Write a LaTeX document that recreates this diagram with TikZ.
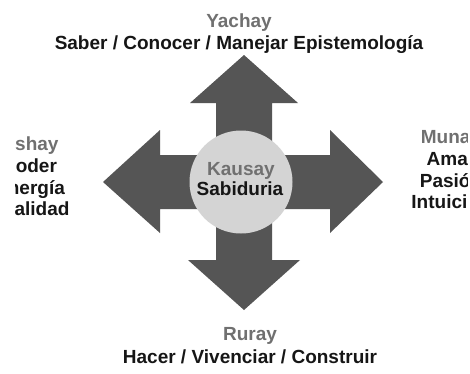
\documentclass[tikz,border=0pt]{standalone}
\usepackage{fontspec}
\setmainfont{Liberation Sans}
\definecolor{arrowgray}{RGB}{85,85,85}
\definecolor{circgray}{RGB}{212,212,212}
\definecolor{titlegray}{RGB}{112,112,112}
\definecolor{textblack}{RGB}{22,22,22}
\begin{document}
\begin{tikzpicture}[x=1pt,y=-1pt,
  lbl/.style={font=\bfseries\fontsize{19}{22}\selectfont, text=textblack, inner sep=0pt, anchor=base},
  ttl/.style={lbl, text=titlegray},
  crossfill/.style={fill=arrowgray, draw=none},
  hub/.style={circle, fill=circgray, draw=none, minimum size=103pt, inner sep=0pt}]
\useasboundingbox (0,0) rectangle (470,373);
\fill[white] (0,0) rectangle (470,373);
% four-way arrow
\path[crossfill] (244,55) -- (298,103) -- (272,103) -- (272,155) -- (330,155) -- (330,130)
  -- (383,182) -- (330,233) -- (330,209) -- (272,209) -- (272,260) -- (300,260)
  -- (244,310) -- (188,260) -- (216,260) -- (216,209) -- (160,209) -- (160,233)
  -- (103,182) -- (160,130) -- (160,155) -- (216,155) -- (216,103) -- (190,103) -- cycle;
\node[hub] (center) at (241,182) {};
\node[ttl] (kausay) at (241,175) {Kausay};
\node[lbl] (sabiduria) at (240,195) {Sabiduria};
% top
\node[ttl] (yachay) at (239,27) {Yachay};
\node[lbl] (saber) at (239,49) {Saber / Conocer / Manejar Epistemología};
% bottom
\node[ttl] (ruray) at (250,340) {Ruray};
\node[lbl] (hacer) at (250,363) {Hacer / Vivenciar / Construir};
% left (cut off at the left as in the reference)
\begin{scope}
\clip (15,0) rectangle (470,373);
\node[ttl] (ushay) at (30,150) {Ushay};
\node[lbl] (poder) at (30,172) {Poder};
\node[lbl] (energia) at (30,194) {Energía};
\node[lbl] (vitalidad) at (30,215) {Vitalidad};
\end{scope}
% right (cut off at the right as in the reference)
\begin{scope}
\clip (0,0) rectangle (467,373);
\node[ttl] (munay) at (451,143) {Munay};
\node[lbl] (amar) at (451,165) {Amar};
\node[lbl] (pasion) at (451,187) {Pasión};
\node[lbl] (intuicion) at (451,208) {Intuición};
\end{scope}
\end{tikzpicture}
\end{document}
